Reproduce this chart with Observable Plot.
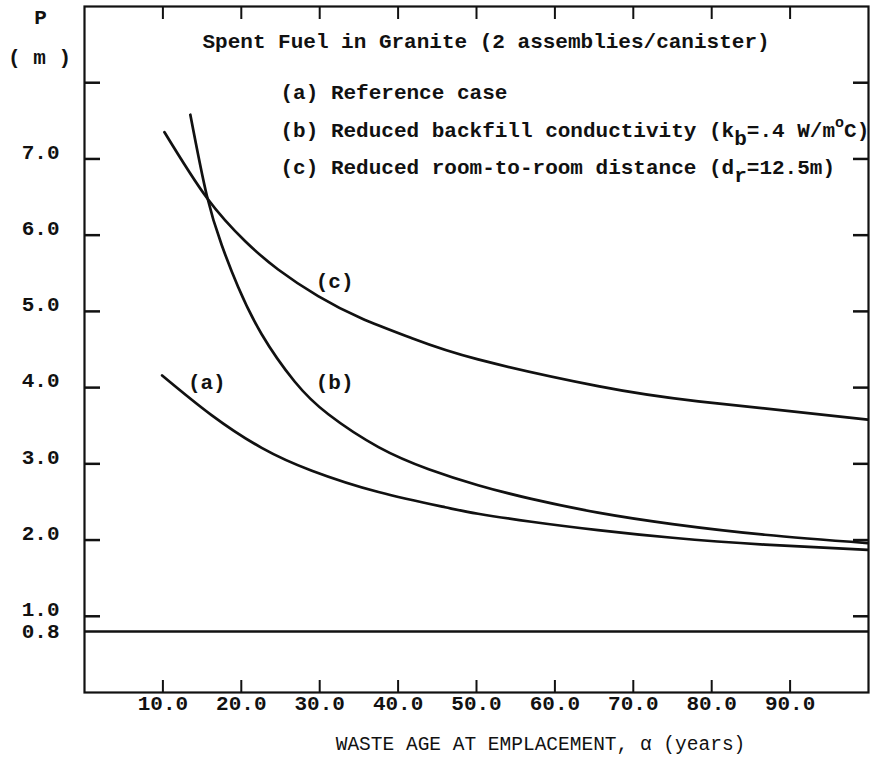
<!DOCTYPE html>
<html>
<head>
<meta charset="utf-8">
<script src="https://cdn.jsdelivr.net/npm/d3@7"></script>
<script src="https://cdn.jsdelivr.net/npm/@observablehq/plot@0.6"></script>
<style>
  body { margin: 0; background: #fff; }
  #chart svg { display: block; }
</style>
</head>
<body>
<div id="chart"></div>
<script>
// ---------- data ----------
const xTicks = [10, 20, 30, 40, 50, 60, 70, 80, 90];
const yTicks = [1, 2, 3, 4, 5, 6, 7, 8];
const yTickLabels = [1, 2, 3, 4, 5, 6, 7];
const thresholdP = [0.8];

// (a) Reference case
const curveAx = [9.9, 16.2, 22.6, 29.0, 37.5, 46.0, 50.2, 57.0, 65.5, 75.0, 86.8, 99.9];
const curveAy = [4.16, 3.64, 3.21, 2.91, 2.63, 2.43, 2.345, 2.24, 2.13, 2.03, 1.94, 1.87];
// (b) Reduced backfill conductivity
const curveBx = [13.5, 15.6, 17.5, 19.6, 22.6, 26.8, 31.1, 37.5, 43.9, 50.2, 57.0, 65.5, 75.0, 86.8, 99.9];
const curveBy = [7.58, 6.52, 5.87, 5.32, 4.70, 4.08, 3.65, 3.22, 2.93, 2.72, 2.54, 2.36, 2.21, 2.07, 1.96];
// (c) Reduced room-to-room distance
const curveCx = [10.2, 15.6, 20.5, 24.7, 29.8, 35.3, 41.7, 50.2, 65.5, 78.3, 99.9];
const curveCy = [7.35, 6.49, 5.92, 5.55, 5.20, 4.91, 4.65, 4.37, 4.02, 3.82, 3.58];

const curveNames = ["(a)", "(b)", "(c)"];
const curveLabelX = [15.6, 31.9, 31.9];
const curveLabelY = [4.07, 4.07, 5.39];

const titleText = "Spent Fuel in Granite (2 assemblies/canister)";
const titleAt = {x: 15.05, y: 8.54};
const legendLines = [
  "(a) Reference case",
  "(b) Reduced backfill conductivity (k_b=.4 W/m^oC)",
  "(c) Reduced room-to-room distance (d_r=12.5m)"
];
const legendX = 25.0;
const legendY = [7.87, 7.37, 6.89];

const xTitle = "WASTE AGE AT EMPLACEMENT, \u03b1 (years)";
const yTitle = ["P", "( m )"];

// ---------- build tables ----------
const series = [
  ...curveAx.map((x, i) => ({series: "a", x, y: curveAy[i]})),
  ...curveBx.map((x, i) => ({series: "b", x, y: curveBy[i]})),
  ...curveCx.map((x, i) => ({series: "c", x, y: curveCy[i]}))
];
const curveLabels = curveNames.map((t, i) => ({t, x: curveLabelX[i], y: curveLabelY[i]}));
const legend = legendLines.map((t, i) => ({t, x: legendX, y: legendY[i]}));

const ink = "#111";
const font = "'Liberation Mono', 'DejaVu Sans Mono', monospace";
const fmt = d3.format(".1f");
const blank = () => "";

const chart = Plot.plot({
  width: 876,
  height: 760,
  marginLeft: 84,
  marginRight: 8,
  marginTop: 6,
  marginBottom: 68,
  style: {fontFamily: font, fontSize: "21px", fontWeight: "bold", color: ink, background: "#fff"},
  x: {domain: [0, 100], axis: null},
  y: {domain: [0, 9], axis: null},
  marks: [
    Plot.ruleY(thresholdP, {stroke: ink, strokeWidth: 2.5}),
    Plot.line(series, {x: "x", y: "y", z: "series", stroke: ink, strokeWidth: 2.7, curve: "natural"}),
    // inward ticks
    Plot.axisY(yTicks, {anchor: "left", tickSize: -16, tickFormat: blank, label: null, strokeWidth: 2.5, stroke: ink}),
    Plot.axisY(yTicks, {anchor: "right", tickSize: -16, tickFormat: blank, label: null, strokeWidth: 2.5, stroke: ink}),
    Plot.axisX(xTicks, {anchor: "bottom", tickSize: -12, tickFormat: blank, label: null, strokeWidth: 2, stroke: ink}),
    Plot.axisX(xTicks, {anchor: "top", tickSize: -12, tickFormat: blank, label: null, strokeWidth: 2, stroke: ink}),
    // tick labels
    Plot.axisY(yTickLabels, {anchor: "left", tickSize: 0, tickPadding: 25, dy: -7, tickFormat: fmt, label: null, fontSize: 21, fill: ink}),
    Plot.axisY(thresholdP, {anchor: "left", tickSize: 0, tickPadding: 25, tickFormat: fmt, label: null, fontSize: 21, fill: ink}),
    Plot.axisX(xTicks, {anchor: "bottom", tickSize: 0, tickPadding: 3, tickFormat: fmt, label: null, fontSize: 21, fill: ink}),
    Plot.frame({stroke: ink, strokeWidth: 2.2}),
    // axis titles
    Plot.text([yTitle[0]], {frameAnchor: "top-left", dx: -44, dy: 11, textAnchor: "middle", lineAnchor: "middle", fontSize: 21, fill: ink}),
    Plot.text([yTitle[1]], {frameAnchor: "top-left", dx: -45, dy: 51, textAnchor: "middle", lineAnchor: "middle", fontSize: 21, fill: ink}),
    Plot.text([xTitle], {frameAnchor: "bottom", dx: 64, dy: 51, textAnchor: "middle", lineAnchor: "middle", fontSize: 19.5, fontWeight: "normal", fill: ink}),
    // title & legend
    Plot.text([titleText], {x: () => titleAt.x, y: () => titleAt.y, textAnchor: "start", lineAnchor: "middle", fontSize: 21, fill: ink}),
    Plot.text(legend, {x: "x", y: "y", text: "t", textAnchor: "start", lineAnchor: "middle", fontSize: 21, fill: ink}),
    // curve labels
    Plot.text(curveLabels, {x: "x", y: "y", text: "t", textAnchor: "middle", lineAnchor: "middle", fontSize: 21, fill: ink})
  ]
});

// sub/superscripts: "_x" -> subscript, "^x" -> superscript
d3.select(chart).selectAll("text").each(function () {
  const s = this.textContent;
  if (!/[_^]/.test(s)) return;
  const tokens = [];
  for (let i = 0; i < s.length; i++) {
    const c = s[i];
    if ((c === "_" || c === "^") && i + 1 < s.length) {
      tokens.push({t: s[i + 1], off: c === "_" ? 8 : -10, size: c === "^" ? 15 : null});
      i++;
    } else if (tokens.length && tokens[tokens.length - 1].off === 0) {
      tokens[tokens.length - 1].t += c;
    } else {
      tokens.push({t: c, off: 0, size: null});
    }
  }
  const el = d3.select(this);
  el.text(null);
  let cur = 0;
  for (const tk of tokens) {
    const ts = el.append("tspan").text(tk.t);
    if (tk.off !== cur) ts.attr("dy", tk.off - cur);
    if (tk.size) ts.attr("font-size", tk.size);
    cur = tk.off;
  }
});

document.getElementById("chart").appendChild(chart);
</script>
</body>
</html>
